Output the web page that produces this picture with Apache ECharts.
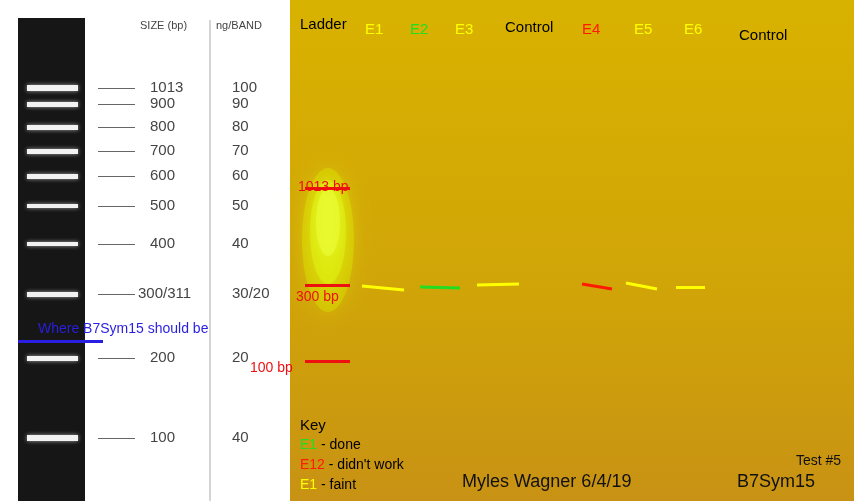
<!DOCTYPE html>
<html><head><meta charset="utf-8">
<script src="https://cdn.jsdelivr.net/npm/echarts@6/dist/echarts.min.js"></script>
<style>html,body{margin:0;padding:0;background:#fff}#c{width:854px;height:501px}</style>
</head><body><div id="c"></div>
<script>
// Reference ladder (left panel): sizes, ng per band, migration position
const ladderSizes = ['1013','900','800','700','600','500','400','300/311','200','100'];
const ladderNg = ['100','90','80','70','60','50','40','30/20','20','40'];
const ladderPos = [88,104,127,151,176,206,244,294,358,438];
const ladderBandWidth = [6,5,5,5,5,4,4,5,5,6];
// Gel lanes (right panel)
const laneNames = ['Ladder','E1','E2','E3','Control','E4','E5','E6','Control'];
const laneColors = ['#000','#ffff00','#22dd22','#ffff00','#000','#ff1a00','#ffff00','#ffff00','#000'];
const laneX = [300,365,410,455,505,582,634,684,739];
const laneLabelY = [27,32,32,32,30,32,32,32,38];
// Sample bands
const bandNames = ['E1','E2','E3','E4','E5','E6'];
const bandColors = ['#ffff00','#22dd22','#ffff00','#ff1a00','#ffff00','#ffff00'];
const bandX0 = [362,420,477,582,626,676];
const bandX1 = [404,460,519,612,657,705];
const bandY0 = [286,287,285,284,283,287];
const bandY1 = [290,288,284,289,289,287];
// Marker lines on the gel ladder
const markerLabels = ['1013 bp','300 bp','100 bp'];
const markerY = [188,285,361];
const markerLabelX = [298,296,250];
const markerLabelY = [188,298,369];

const W=854,H=501;
const chart = echarts.init(document.getElementById('c'),null,{renderer:'canvas'});
const font = '"Liberation Sans", Arial, sans-serif';

const lineData = [];
ladderPos.forEach((y,i)=>lineData.push({coords:[[27,y],[78,y]],lineStyle:{color:'#f2f2f2',width:ladderBandWidth[i],opacity:1,shadowBlur:4,shadowColor:'rgba(255,255,255,0.6)'}}));
ladderPos.forEach((y)=>lineData.push({coords:[[98,y],[135,y]],lineStyle:{color:'#666',width:1,opacity:1}}));
markerY.forEach(y=>lineData.push({coords:[[305,y],[350,y]],lineStyle:{color:'#ee1010',width:3,opacity:1}}));
bandX0.forEach((x,i)=>lineData.push({coords:[[x,bandY0[i]],[bandX1[i],bandY1[i]]],lineStyle:{color:bandColors[i],width:3,opacity:1}}));
lineData.push({coords:[[18,341],[103,341]],lineStyle:{color:'#2a1ee0',width:3,opacity:1}});

const graphics = [
  {type:'rect',shape:{x:0,y:0,width:290,height:H},style:{fill:'#fff'},z:-10},
  {type:'rect',shape:{x:18,y:18,width:67,height:H-18},style:{fill:'#161616'},z:-9},
  {type:'rect',shape:{x:290,y:0,width:W-290,height:H},style:{fill:{type:'linear',x:0,y:0,x2:0,y2:1,colorStops:[{offset:0,color:'#d8b200'},{offset:0.6,color:'#d0a408'},{offset:1,color:'#c89214'}]}},z:-10},
  {type:'ellipse',shape:{cx:328,cy:240,rx:26,ry:72},style:{fill:'rgba(220,240,0,0.35)',shadowBlur:20,shadowColor:'rgba(220,240,0,0.8)'},z:-8},
  {type:'ellipse',shape:{cx:328,cy:232,rx:18,ry:52},style:{fill:'rgba(225,250,20,0.45)',shadowBlur:15,shadowColor:'rgba(230,250,30,0.8)'},z:-8},
  {type:'ellipse',shape:{cx:328,cy:222,rx:12,ry:34},style:{fill:'rgba(235,255,60,0.5)',shadowBlur:10,shadowColor:'rgba(240,255,60,0.8)'},z:-8},
  {type:'line',shape:{x1:210,y1:20,x2:210,y2:H},style:{stroke:'#aaa',lineWidth:1},z:-7},
  {type:'text',x:140,y:20,style:{text:'SIZE (bp)',font:'11px '+font,fill:'#444'}},
  {type:'text',x:216,y:20,style:{text:'ng/BAND',font:'11px '+font,fill:'#444'}},
  {type:'text',x:38,y:322,style:{text:'Where B7Sym15 should be',font:'14px '+font,fill:'#2a1ee0'}},
  {type:'text',x:300,y:418,style:{text:'Key',font:'15px '+font,fill:'#000'}},
  {type:'text',x:300,y:438,style:{rich:{g:{fill:'#22dd22',font:'14px '+font},k:{fill:'#000',font:'14px '+font}},text:'{g|E1}{k| - done}'}},
  {type:'text',x:300,y:458,style:{rich:{g:{fill:'#ff1a00',font:'14px '+font},k:{fill:'#000',font:'14px '+font}},text:'{g|E12}{k| - didn\'t work}'}},
  {type:'text',x:300,y:478,style:{rich:{g:{fill:'#ffff00',font:'14px '+font},k:{fill:'#000',font:'14px '+font}},text:'{g|E1}{k| - faint}'}},
  {type:'text',x:462,y:473,style:{text:'Myles Wagner 6/4/19',font:'18px '+font,fill:'#111'}},
  {type:'text',x:737,y:473,style:{text:'B7Sym15',font:'18px '+font,fill:'#111'}},
  {type:'text',x:796,y:454,style:{text:'Test #5',font:'14px '+font,fill:'#111'}}
];
ladderPos.forEach((y,i)=>{
  graphics.push({type:'text',x:i===7?138:150,y:y-8,style:{text:ladderSizes[i],font:'15px '+font,fill:'#444'}});
  graphics.push({type:'text',x:232,y:y-8,style:{text:ladderNg[i],font:'15px '+font,fill:'#444'}});
});
laneNames.forEach((n,i)=>graphics.push({type:'text',x:laneX[i],y:laneLabelY[i]-10,style:{text:n,font:'15px '+font,fill:laneColors[i]}}));
markerLabels.forEach((m,i)=>graphics.push({type:'text',x:markerLabelX[i],y:markerLabelY[i]-8,style:{text:m,font:'14px '+font,fill:'#ee1010'}}));

chart.setOption({
  animation:false,
  grid:{left:0,right:0,top:0,bottom:0},
  xAxis:{type:'value',min:0,max:W,show:false},
  yAxis:{type:'value',min:0,max:H,inverse:true,show:false},
  graphic:graphics,
  series:[{type:'lines',coordinateSystem:'cartesian2d',polyline:false,data:lineData,z:5}]
});
</script></body></html>
